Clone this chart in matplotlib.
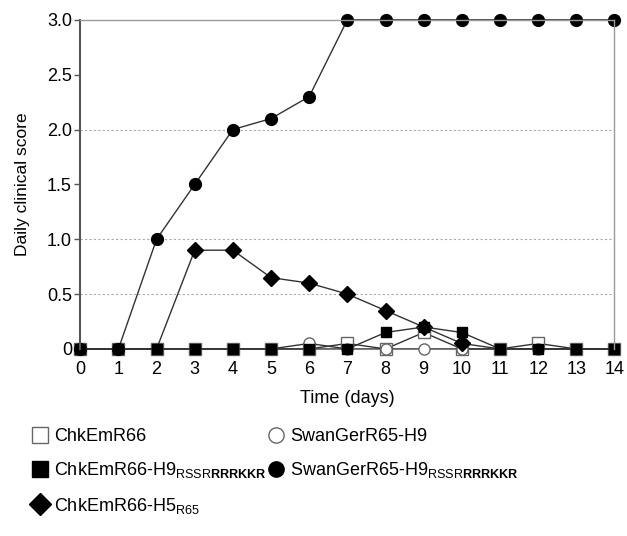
import numpy as np
import matplotlib.pyplot as plt

plt.rcParams['font.family'] = ['Liberation Sans', 'DejaVu Sans']
plt.rcParams['mathtext.fontset'] = 'custom'
plt.rcParams['mathtext.rm'] = 'Liberation Sans'
plt.rcParams['mathtext.bf'] = 'Liberation Sans:bold'

days = np.arange(0, 15)
chk_r66 = [0, 0, 0, 0, 0, 0, 0, 0.05, 0, 0.15, 0, 0, 0.05, 0, 0]
swan_h9 = [0, 0, 0, 0, 0, 0, 0.05, 0, 0, 0, 0, 0, 0, 0, 0]
chk_h5 = [0, 0, 0, 0.9, 0.9, 0.65, 0.6, 0.5, 0.35, 0.2, 0.05, 0, 0, 0, 0]
swan_rrrkkr = [0, 0, 1.0, 1.5, 2.0, 2.1, 2.3, 3, 3, 3, 3, 3, 3, 3, 3]
chk_h9_rrrkkr = [0, 0, 0, 0, 0, 0, 0, 0, 0.15, 0.2, 0.15, 0, 0, 0, 0]

lab_chk = 'ChkEmR66'
lab_swan = 'SwanGerR65-H9'
lab_chk_h9 = r'ChkEmR66-H9$_{\mathrm{RSSR}\mathbf{RRRKKR}}$'
lab_swan_rr = r'SwanGerR65-H9$_{\mathrm{RSSR}\mathbf{RRRKKR}}$'
lab_chk_h5 = r'ChkEmR66-H5$_{\mathrm{R65}}$'

fig = plt.figure(figsize=(6.27, 5.36), dpi=100)
ax = fig.add_axes([0.128, 0.349, 0.852, 0.614])

for yv in [0.5, 1.0, 2.0]:
    ax.axhline(yv, color='#aaaaaa', ls=(0, (2, 2)), lw=0.8, zorder=0)

kw = dict(color='#333333', lw=1.0, clip_on=False)
h1, = ax.plot(days, chk_r66, marker='s', ms=8, mfc='white', mec='#666666', **kw)
h2, = ax.plot(days, swan_h9, marker='o', ms=8, mfc='white', mec='#666666', **kw)
h5, = ax.plot(days, chk_h5, marker='D', ms=8, mfc='black', mec='black',
              markevery=list(range(3, 11)), **kw)
h4, = ax.plot(days, swan_rrrkkr, marker='o', ms=8.5, mfc='black', mec='black', **kw)
h3, = ax.plot(days, chk_h9_rrrkkr, marker='s', ms=7.5, mfc='black', mec='black', **kw)

ax.set_xlim(0, 14)
ax.set_ylim(0, 3)
ax.set_xticks(days)
ax.set_yticks([0, 0.5, 1.0, 1.5, 2.0, 2.5, 3.0])
ax.set_yticklabels(['0', '0.5', '1.0', '1.5', '2.0', '2.5', '3.0'])
ax.tick_params(axis='x', length=0, labelsize=13, pad=9)
ax.tick_params(axis='y', length=4, width=1, color='#555555', labelsize=13, pad=2)
for s in ['top', 'right']:
    ax.spines[s].set_color('#999999')
    ax.spines[s].set_linewidth(1)
ax.spines['left'].set_color('#555555')
ax.spines['left'].set_linewidth(1.5)
ax.spines['bottom'].set_visible(False)

ax.set_xlabel('Time (days)', fontsize=13, labelpad=8)
ax.set_ylabel('Daily clinical score', fontsize=12.5, labelpad=12)

leg_handles = []
for h in [h1, h3, h5, h2, h4]:
    p, = ax.plot([], [], ls='none', marker=h.get_marker(), ms=11,
                 mfc=h.get_markerfacecolor(), mec=h.get_markeredgecolor())
    leg_handles.append(p)

fig.legend(handles=leg_handles,
           labels=[lab_chk, lab_chk_h9, lab_chk_h5, lab_swan, lab_swan_rr],
           ncol=2, loc='upper left', bbox_to_anchor=(0.04, 0.215),
           frameon=False, fontsize=13, handlelength=0.9, handletextpad=0.3,
           columnspacing=0.1, labelspacing=0.85, borderaxespad=0)

fig.savefig('out.png', dpi=100)
